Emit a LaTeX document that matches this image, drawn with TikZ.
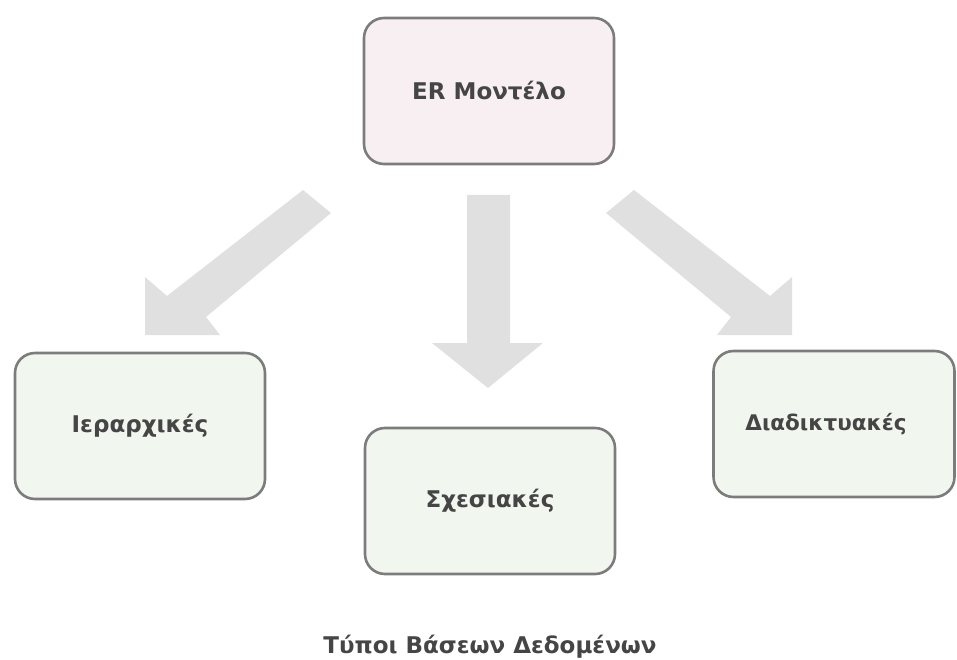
\documentclass[tikz,border=0pt]{standalone}
\usepackage{fontspec}
\setmainfont{DejaVu Sans}
\begin{document}
\definecolor{boxline}{HTML}{7C7C7C}
\definecolor{topfill}{HTML}{F8EFF2}
\definecolor{lowfill}{HTML}{F1F6EF}
\definecolor{arrowgray}{HTML}{E0E0E0}
\definecolor{labeltext}{HTML}{454545}
\begin{tikzpicture}[x=1pt,y=-1pt,
  box/.style={draw=boxline, line width=2.6pt, rounded corners=20pt,
    minimum width=250pt, minimum height=146pt, inner sep=0pt,
    text=labeltext, font=\bfseries\fontsize{23}{27}\selectfont},
  blockarrow/.style={fill=arrowgray, draw=none}]
\useasboundingbox (0,0) rectangle (957,660);

% boxes
\node[box, fill=topfill] (er) at (489,91) {ER Μοντέλο};
\node[box, fill=lowfill] (hier) at (140,426) {Ιεραρχικές};
\node[box, fill=lowfill] (rel) at (490,501) {Σχεσιακές};
\node[box, fill=lowfill, minimum width=241pt] (net) at (834,424)
  {\hspace*{-16pt}\fontsize{21.5}{26}\selectfont Διαδικτυακές};

% block arrows from the ER model towards the three kinds of databases
\fill[blockarrow] (145,335) -- (145,277) -- (167,296) -- (303,190)
  -- (331,213) -- (206,317) -- (220,335) -- cycle;
\fill[blockarrow] (488,388) -- (432,343) -- (467,343) -- (467,195)
  -- (510,195) -- (510,343) -- (543,343) -- cycle;
\fill[blockarrow] (792,335) -- (792,277) -- (770,296) -- (634,190)
  -- (606,213) -- (731,317) -- (717,335) -- cycle;

% caption
\node[text=labeltext, font=\bfseries\fontsize{23}{28}\selectfont] (caption) at (490,647) {Τύποι Βάσεων Δεδομένων};
\end{tikzpicture}
\end{document}
